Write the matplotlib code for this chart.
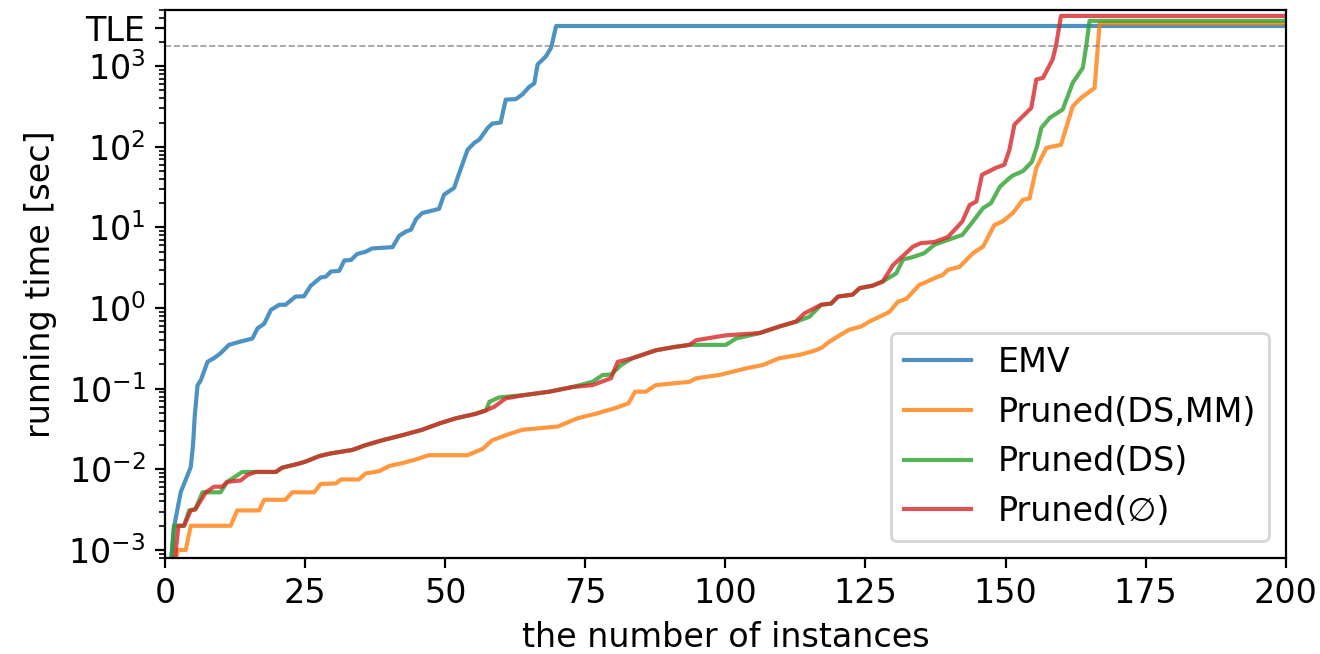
import matplotlib
matplotlib.use('Agg')
import matplotlib.pyplot as plt
import numpy as np

# sorted running times per method (instance count, seconds); unsolved ones sit above TLE
emv_n = [1, 1.6, 2.8, 4.6, 5.0, 5.3, 5.8, 6.4, 7.6, 8.75, 9.9, 11.4, 13.2, 15.6, 16.5, 17.7,
         18.9, 20.4, 21.5, 23.3, 24.8, 26.0, 27.8, 28.7, 29.6, 31.1, 32.0, 33.2, 34.3, 35.8,
         37.0, 40.6, 41.8, 43.0, 43.9, 44.8, 45.9, 47.4, 48.9, 49.8, 51.6, 52.5, 54.0, 55.2,
         56.1, 57.6, 58.4, 59.9, 60.8, 62.6, 63.8, 65.0, 65.9, 66.5, 68.0, 68.9, 69.8, 200]
emv_t = [6e-4, 1.9e-3, 5.2e-3, 0.0107, 0.02, 0.045, 0.11, 0.128, 0.216, 0.24, 0.275, 0.35,
         0.38, 0.42, 0.56, 0.64, 0.95, 1.1, 1.1, 1.39, 1.4, 1.89, 2.4, 2.45, 2.84, 2.9, 3.9,
         3.95, 4.7, 5.0, 5.5, 5.7, 7.9, 8.9, 9.4, 12.7, 15.1, 16, 17, 25.5, 31, 47, 92, 112,
         123, 172, 194, 200, 385, 390, 447, 555, 610, 1050, 1330, 1690, 3150, 3150]

dsmm_n = [1.9, 2.2, 3.7, 4.6, 11.7, 12.9, 16.8, 17.7, 21.5, 22.7, 26.6, 27.8, 30.5, 31.4,
          34.6, 35.8, 38.2, 40, 42.4, 44.8, 47.1, 54, 56.7, 58.4, 61.1, 63.8, 70.1, 73.6,
          76.9, 80.5, 82.7, 83.9, 85.8, 87.6, 93.6, 94.8, 98.9, 103.7, 106.7, 109.6, 113.2,
          115.5, 117.1, 118.5, 120.4, 122.1, 124.2, 125.7, 127.5, 129.3, 130.8, 132.3, 134.6,
          135.8, 137.3, 138.8, 139.7, 141.8, 144.2, 146, 148, 149.5, 151.3, 153.1, 154.3,
          155.5, 157.3, 159.9, 162, 163.5, 165.9, 166.8, 200]
dsmm_t = [6e-4, 1e-3, 1e-3, 2e-3, 2e-3, 3.1e-3, 3.1e-3, 4.2e-3, 4.2e-3, 5.2e-3, 5.2e-3,
          6.6e-3, 6.7e-3, 7.5e-3, 7.5e-3, 8.9e-3, 9.5e-3, 0.011, 0.012, 0.0133, 0.015, 0.015,
          0.018, 0.023, 0.027, 0.031, 0.034, 0.043, 0.049, 0.058, 0.066, 0.092, 0.092, 0.111,
          0.122, 0.135, 0.148, 0.179, 0.197, 0.239, 0.263, 0.29, 0.32, 0.38, 0.46, 0.54, 0.59,
          0.68, 0.78, 0.90, 1.2, 1.3, 1.94, 2.1, 2.35, 2.58, 2.98, 3.25, 4.8, 5.8, 10.7, 11.9,
          15.1, 22, 23, 55, 97, 106, 318, 405, 537, 3400, 3400]

ds_n = [1, 1.6, 3.4, 4.3, 5.4, 6.7, 9.9, 11.1, 13.8, 19.8, 20.9, 23.9, 25.1, 27.5, 29.6,
        33.4, 35.8, 38.8, 42.4, 45.9, 48.9, 51.9, 55.5, 57.3, 57.9, 59.6, 64.4, 68.6, 72.7,
        76.3, 78.1, 79.6, 81.4, 83.4, 87.6, 90.6, 93.6, 100.1, 101.9, 106.1, 109.6, 112.6,
        115, 117.1, 118.9, 120.1, 122.7, 124, 126.3, 128.1, 130.5, 131.7, 133.5, 135.5,
        137.3, 139.7, 142.3, 144.2, 146, 147.4, 149, 150.7, 151.3, 153.1, 154.7, 155.6,
        156.4, 157.9, 160.2, 162.0, 163.8, 164.4, 165, 200]
ds_t = [6e-4, 2e-3, 2e-3, 3.1e-3, 3.2e-3, 5.2e-3, 5.2e-3, 7e-3, 9.3e-3, 9.3e-3, 0.0105,
        0.0118, 0.0125, 0.0146, 0.0158, 0.0174, 0.02, 0.023, 0.0266, 0.031, 0.037, 0.043,
        0.049, 0.054, 0.069, 0.078, 0.084, 0.092, 0.105, 0.122, 0.148, 0.15, 0.197, 0.239,
        0.30, 0.327, 0.35, 0.35, 0.42, 0.49, 0.59, 0.68, 0.78, 1.1, 1.14, 1.39, 1.47, 1.77,
        1.9, 2.14, 2.7, 4.0, 4.3, 4.8, 6.1, 7.0, 8.1, 11.9, 17.4, 20, 32, 41, 44, 50, 65,
        100, 172, 229, 290, 622, 955, 1770, 3650, 3650]

none_n = [1.6, 2.4, 3.4, 4.6, 5.4, 7.3, 8.75, 10.2, 11.1, 13.5, 14.7, 16.2, 19.8, 20.9,
          23.9, 25.1, 27.5, 29.6, 33.4, 35.8, 38.8, 42.4, 45.9, 48.9, 51.9, 55.5, 57.3, 58.8,
          60.8, 64.4, 68.6, 72.7, 76.3, 79.6, 80.8, 83.4, 87.6, 90.6, 93.6, 94.8, 100.1,
          106.1, 109.6, 112.6, 114.1, 117.1, 118.9, 120.1, 122.7, 124, 126.3, 128.1, 129.9,
          133.5, 134.9, 137.3, 139.7, 141.2, 142.3, 143.6, 144.8, 145.8, 148.3, 149.8, 150.7,
          151.6, 154.6, 155.5, 156.7, 158.4, 159.0, 159.9, 200]
none_t = [6e-4, 2e-3, 2e-3, 3.1e-3, 3.2e-3, 5.2e-3, 6.1e-3, 6.1e-3, 7e-3, 7.3e-3, 8.5e-3,
          9.3e-3, 9.3e-3, 0.0105, 0.0118, 0.0125, 0.0146, 0.0158, 0.0174, 0.02, 0.023,
          0.0266, 0.031, 0.037, 0.043, 0.049, 0.054, 0.06, 0.076, 0.084, 0.092, 0.105, 0.111,
          0.135, 0.216, 0.239, 0.30, 0.327, 0.35, 0.40, 0.46, 0.49, 0.59, 0.68, 0.86, 1.1,
          1.14, 1.39, 1.47, 1.77, 1.9, 2.14, 3.4, 5.8, 6.4, 6.6, 7.6, 9.8, 11.9, 19, 21, 45,
          55, 60, 92, 189, 304, 684, 717, 1210, 1770, 4200, 4200]

labels = ['EMV', 'Pruned(DS,MM)', 'Pruned(DS)', 'Pruned(\u2205)']
TLE = 1800
yticks = [1e-3, 1e-2, 1e-1, 1e0, 1e1, 1e2, 1e3, 3000]
yticklabels = ['$10^{-3}$', '$10^{-2}$', '$10^{-1}$', '$10^{0}$', '$10^{1}$', '$10^{2}$',
               '$10^{3}$', 'TLE']

plt.rcParams['font.size'] = 12
fig = plt.figure(figsize=(6.6, 3.27), dpi=200)
ax = fig.add_axes([0.125, 0.147, 0.849, 0.838])

ax.plot(emv_n, emv_t, color='tab:blue', alpha=0.8, lw=1.5, label=labels[0])
ax.plot(dsmm_n, dsmm_t, color='tab:orange', alpha=0.8, lw=1.5, label=labels[1])
ax.plot(ds_n, ds_t, color='tab:green', alpha=0.8, lw=1.5, label=labels[2])
ax.plot(none_n, none_t, color='tab:red', alpha=0.8, lw=1.5, label=labels[3])
ax.axhline(TLE, color='gray', ls='--', lw=0.6, alpha=0.8)

ax.set_yscale('log')
ax.set_xlim(0, 200)
ax.set_ylim(8e-4, 5e3)
ax.set_yticks(yticks)
ax.set_yticklabels(yticklabels)
ax.set_xlabel('the number of instances')
ax.set_ylabel('running time [sec]')
ax.legend(loc='lower right')

fig.savefig('out.png', dpi=200)
